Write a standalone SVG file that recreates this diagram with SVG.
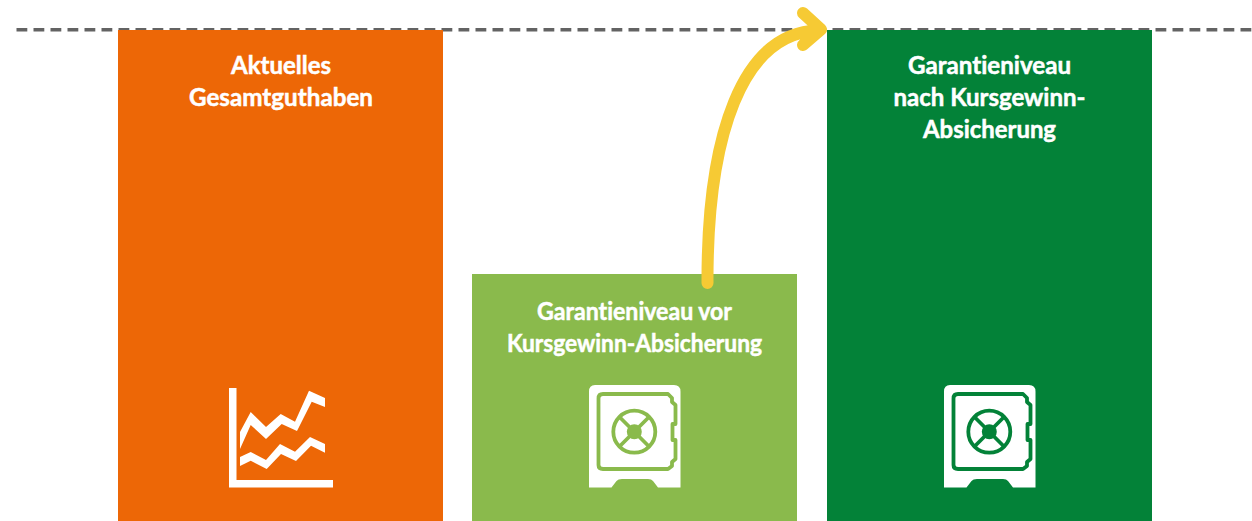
<svg xmlns="http://www.w3.org/2000/svg" width="1252" height="521" viewBox="0 0 1252 521">
<style>
text{font-family:"Lato","Liberation Sans",sans-serif;font-weight:700;font-size:24px;fill:#fff;stroke:#fff;stroke-width:.5px;text-anchor:middle;font-variant-ligatures:none}
.w{fill:#fff;fill-rule:evenodd}
.s{fill:none;stroke-width:3.8;stroke-linejoin:round}
.arrow{fill:none;stroke:#f6ca34;stroke-width:12;stroke-linecap:round;stroke-linejoin:round}
</style>
<defs>
<g id="safe">
<path class="w" d="M595 385H674Q680.500 385 680.500 391.500V487.500H658L653 481Q651.500 479 648 479H622Q618 479 616.500 481L611.500 487.500H589V391.500Q589 385 595 385Z"/>
</g>
</defs>
<g id="connectors">
<path d="M16.500 29.700H1252" fill="none" stroke="#636363" stroke-width="3.400" stroke-dasharray="10.800 6.200"/>
</g>
<g id="node-gesamtguthaben">
<rect x="118" y="30" width="325" height="491" fill="#ed6706"/>
<text x="281" y="74" textLength="100" lengthAdjust="spacingAndGlyphs">Aktuelles</text>
<text x="281" y="106" textLength="184" lengthAdjust="spacingAndGlyphs">Gesamtguthaben</text>
<path class="w" d="M229 388H236.500V480H333V487.500H229Z"/>
<path class="w" d="M240 432L250.700 412L266 427L280.700 414L295 421.700L309 390.700L325 398V407L311.700 401.700L297 431L281.700 424L266 439L250.700 425L240 449Z"/>
<path class="w" d="M240 457L250.700 452L266 460L280 444L295 451.700L310 437L325 444V452.700L311 445.700L296 461L281 454L266.700 469L250.700 460.700L240 466Z"/>
</g>
<g id="node-vor">
<rect x="472" y="274" width="325" height="247" fill="#8aba4c"/>
<text x="634.500" y="320" textLength="195" lengthAdjust="spacingAndGlyphs">Garantieniveau vor</text>
<text x="634.500" y="352" textLength="255" lengthAdjust="spacingAndGlyphs">Kursgewinn-Absicherung</text>
<use href="#safe"/>
<g stroke="#8aba4c">
<path class="s" d="M603 394H668L672 398V402L675.500 405V424H672.500V440H675.500V459L672 462V466L668 469H603Q598.500 469 598.500 465V398.500Q598.500 394 603 394Z"/>
<circle class="s" cx="634.300" cy="431.700" r="21"/>
<path class="s" d="M620 417.500L648.500 446M648.500 417.500L620 446"/>
<circle cx="634.300" cy="431.700" r="7.500" fill="#8aba4c" stroke="none"/>
</g>
</g>
<g id="node-nach">
<rect x="827" y="30" width="325" height="491" fill="#038238"/>
<text x="989.500" y="74" textLength="163" lengthAdjust="spacingAndGlyphs">Garantieniveau</text>
<text x="989.500" y="106" textLength="192" lengthAdjust="spacingAndGlyphs">nach Kursgewinn-</text>
<text x="989.500" y="138" textLength="133" lengthAdjust="spacingAndGlyphs">Absicherung</text>
<use href="#safe" x="355"/>
<g stroke="#038238" transform="translate(355)">
<path class="s" d="M603 394H668L672 398V402L675.500 405V424H672.500V440H675.500V459L672 462V466L668 469H603Q598.500 469 598.500 465V398.500Q598.500 394 603 394Z"/>
<circle class="s" cx="634.300" cy="431.700" r="21"/>
<path class="s" d="M620 417.500L648.500 446M648.500 417.500L620 446"/>
<circle cx="634.300" cy="431.700" r="7.500" fill="#038238" stroke="none"/>
</g>
</g>
<g id="arrow">
<path class="arrow" d="M707.500 283C707 135 742 33 818 30.500M803 13L821 29.500L803 45"/>
</g>
</svg>
